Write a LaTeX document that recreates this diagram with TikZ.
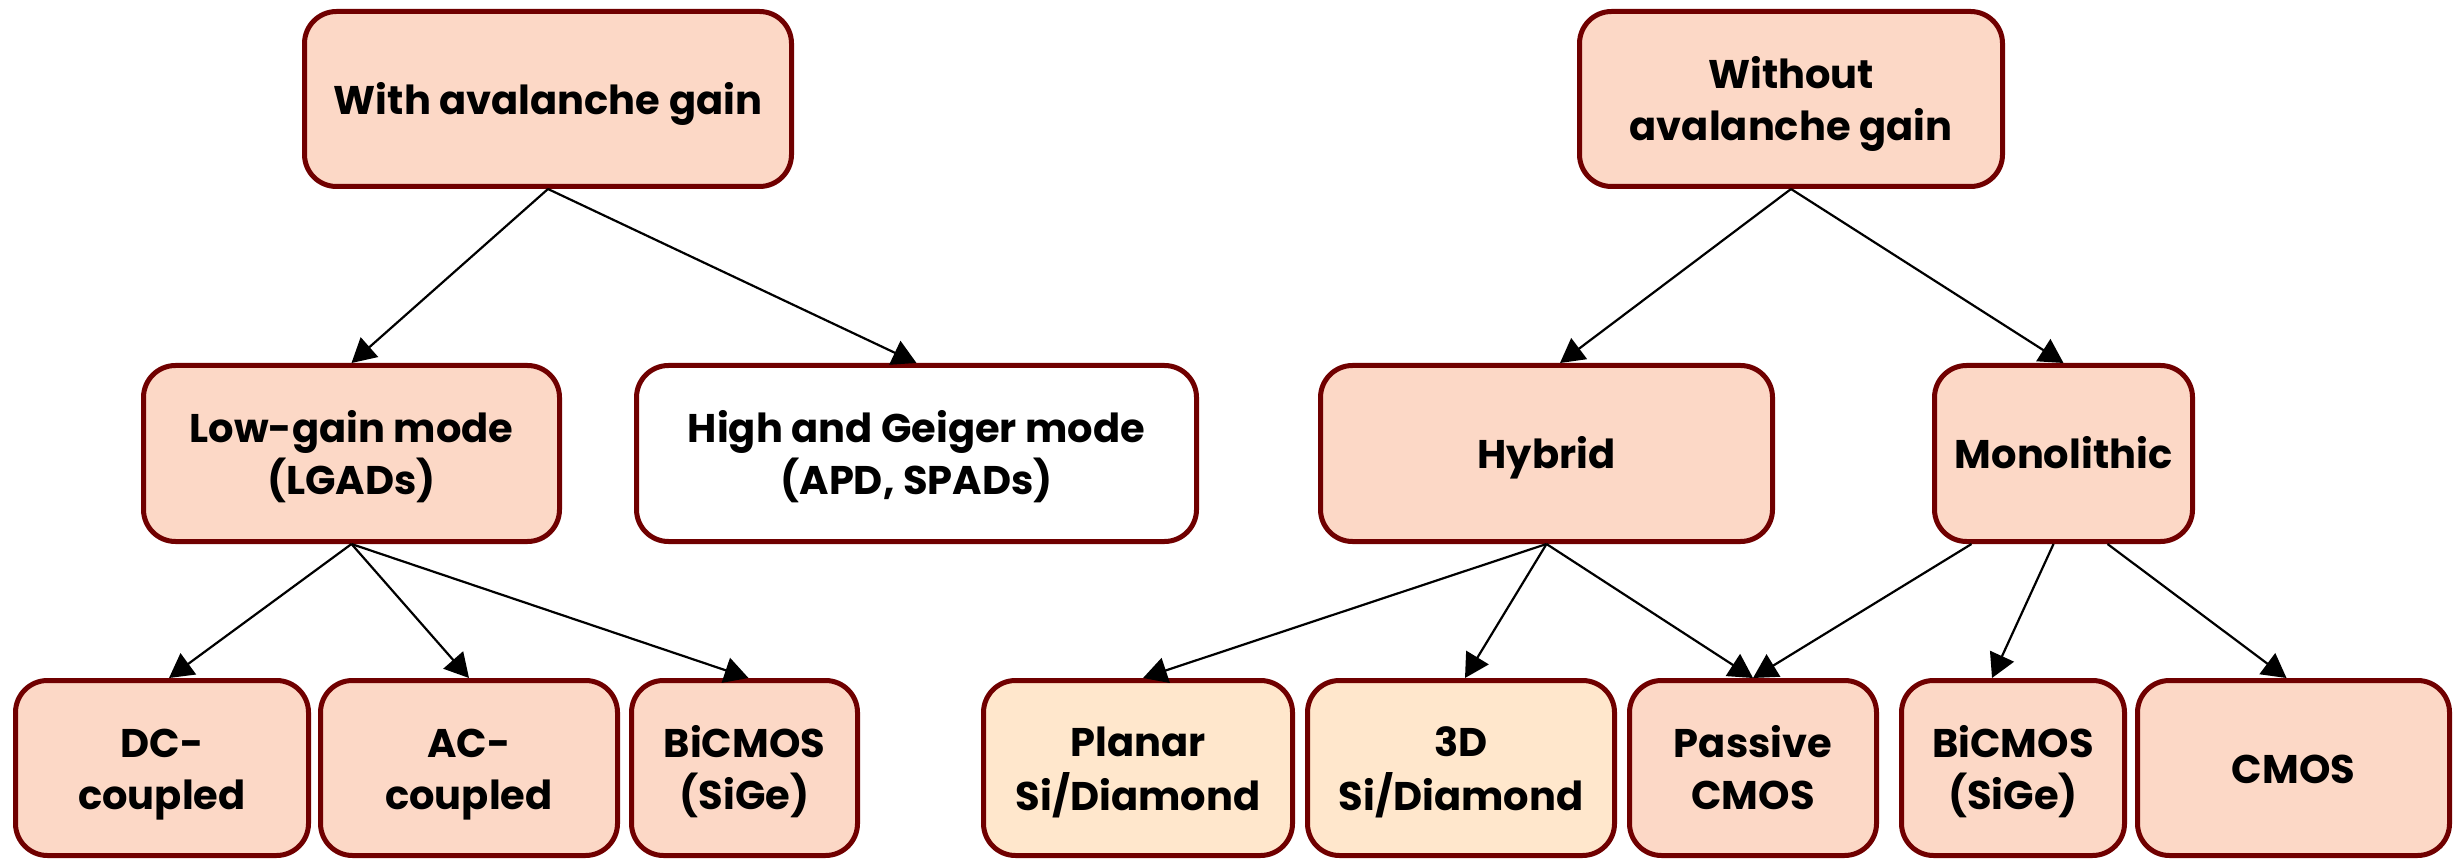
\documentclass[tikz,border=0pt]{standalone}
\usepackage{fontspec}
\setmainfont{Poppins}
\usetikzlibrary{arrows.meta}
\definecolor{peach}{RGB}{252,216,198}
\definecolor{cream}{RGB}{255,231,204}
\definecolor{edge}{RGB}{112,0,0}
\newcommand\tx[1]{\raisebox{-2.5pt}[\height][\depth]{\begin{tabular}{@{}c@{}}#1\end{tabular}}}
\tikzset{
  box/.style={draw=edge, line width=2.5pt, rounded corners=16pt, fill=peach,
    align=center, inner sep=0pt, minimum height=87.5pt,
    font=\bfseries\fontsize{20}{26}\selectfont, text=black},
  creambox/.style={box, fill=cream},
  whitebox/.style={box, fill=white},
  conn/.style={line width=1.1pt, -{Triangle[length=12pt,width=13pt]}}
}
\begin{document}
\begin{tikzpicture}[x=0.5pt,y=-0.5pt]
\useasboundingbox (0,0) rectangle (2455,860);
% top row
\node[box, minimum width=243.5pt] (with) at (548,99) {\tx{With avalanche gain}};
\node[box, minimum width=211.5pt] (without) at (1791,99) {\tx{Without\\avalanche gain}};
% middle row
\node[box, minimum width=208pt, minimum height=88pt] (low) at (351.5,453.5) {\tx{Low-gain mode\\(LGADs)}};
\node[whitebox, minimum width=280pt, minimum height=88pt] (high) at (916.5,453.5) {\tx{High and Geiger mode\\(APD, SPADs)}};
\node[box, minimum width=226pt, minimum height=88pt] (hybrid) at (1546.5,453.5) {\tx{Hybrid}};
\node[box, minimum width=129pt, minimum height=88pt] (mono) at (2063.5,453.5) {\tx{Monolithic}};
% bottom row
\node[box, minimum width=146.5pt] (dc) at (162,768) {\tx{DC-\\coupled}};
\node[box, minimum width=148.5pt] (ac) at (469,768) {\tx{AC-\\coupled}};
\node[box, minimum width=113pt] (bic1) at (744.5,768) {\tx{BiCMOS\\(SiGe)}};
\node[creambox, minimum width=154.5pt] (planar) at (1138,768) {\tx{Planar\\Si/Diamond}};
\node[creambox, minimum width=153.5pt] (threed) at (1461,768) {\tx{3D\\Si/Diamond}};
\node[box, minimum width=123.5pt] (passive) at (1753,768) {\tx{Passive\\CMOS}};
\node[box, minimum width=111.5pt] (bic2) at (2013,768) {\tx{BiCMOS\\(SiGe)}};
\node[box, minimum width=156pt] (cmos) at (2293.5,768) {\tx{CMOS}};
% connectors
\draw[conn] (with.south) -- (low.north);
\draw[conn] (with.south) -- (high.north);
\draw[conn] (low.south) -- ([xshift=3.5pt]dc.north);
\draw[conn] (low.south) -- (ac.north);
\draw[conn] (low.south) -- ([xshift=2pt]bic1.north);
\draw[conn] (without.south) -- ([xshift=6.75pt]hybrid.north);
\draw[conn] (without.south) -- (mono.north);
\draw[conn] (hybrid.south) -- ([xshift=2.5pt]planar.north);
\draw[conn] (hybrid.south) -- ([xshift=2pt]threed.north);
\draw[conn] (hybrid.south) -- (passive.north);
\draw[conn] ([xshift=-46pt]mono.south) -- (passive.north);
\draw[conn] ([xshift=-5pt]mono.south) -- ([xshift=-10.5pt]bic2.north);
\draw[conn] ([xshift=22pt]mono.south) -- ([xshift=-3.5pt]cmos.north);
\end{tikzpicture}
\end{document}
